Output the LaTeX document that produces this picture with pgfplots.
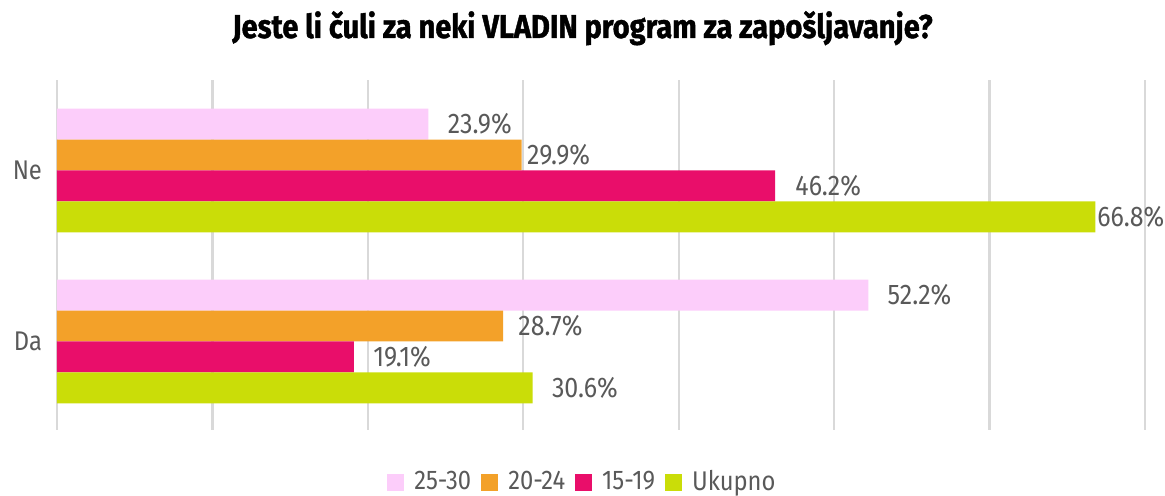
\documentclass[border=0pt]{standalone}
\usepackage{pgfplots}
\usepackage{pgfplotstable}
\pgfplotsset{compat=1.18}
\usepackage{fontspec}
\setmainfont{Fira Sans}[FakeStretch=0.88]
\definecolor{cpink}{RGB}{252,205,250}
\definecolor{corange}{RGB}{243,161,41}
\definecolor{cmag}{RGB}{233,14,106}
\definecolor{clime}{RGB}{202,221,8}
\definecolor{cgrid}{RGB}{217,217,217}
\definecolor{ctext}{RGB}{89,89,89}
% c: 1 = Ne, 0 = Da ; dx = label gap in pt
\pgfplotstableread{
c v dx
1 23.9 9.5
0 52.2 9.5
}\tpink
\pgfplotstableread{
c v dx
1 29.9 2.5
0 28.7 7.5
}\torange
\pgfplotstableread{
c v dx
1 46.2 10
0 19.1 9.5
}\tmag
\pgfplotstableread{
c v dx
1 66.8 0.8
0 30.6 9.5
}\tlime
\begin{document}
\begin{tikzpicture}
\begin{axis}[
  scale only axis, width=544pt, height=175pt,
  at={(28.5pt,33pt)}, anchor=south west,
  /pgf/number format/assume math mode=true,
  xmin=0, xmax=70, ymin=-0.5175, ymax=1.529,
  xtick={0,10,...,70}, xticklabels={},
  xmajorgrids, grid style={cgrid, line width=1.2pt},
  axis line style={draw=none}, major tick length=0pt,
  ytick={0,1}, yticklabels={Da,Ne},
  yticklabel style={font=\fontsize{13.5}{16}\selectfont, text=ctext, xshift=-4pt},
  xbar, bar width=0.181,
  visualization depends on={\thisrow{dx} \as \dx},
  nodes near coords={\pgfmathprintnumber[fixed,precision=1,fixed zerofill,assume math mode=true]{\pgfplotspointmeta}\%},
  nodes near coords style={font=\fontsize{14.2}{17}\selectfont, text=ctext, anchor=west, inner sep=0pt, xshift=\dx pt},
  legend columns=-1,
  legend style={at={(0.482,-0.1486)}, anchor=center, draw=none, fill=none,
    font=\fontsize{13.5}{16}\selectfont, text=ctext,
    nodes={inner sep=0pt},
    /tikz/every odd column/.append style={column sep=5pt},
    /tikz/every even column/.append style={column sep=5pt}},
  legend image code/.code={\fill[#1] (0pt,-4.25pt) rectangle (8.5pt,4.25pt);},
]
\addplot[fill=cpink, draw=none, bar shift=0.2715] table[x=v, y=c] {\tpink};
\addplot[fill=corange, draw=none, bar shift=0.0905] table[x=v, y=c] {\torange};
\addplot[fill=cmag, draw=none, bar shift=-0.0905] table[x=v, y=c] {\tmag};
\addplot[fill=clime, draw=none, bar shift=-0.2715] table[x=v, y=c] {\tlime};
\legend{25-30, 20-24, 15-19, Ukupno}
\end{axis}
\node[anchor=base, font=\fontsize{16.5}{19}\bfseries\addfontfeatures{FakeBold=1.2}] at (291.25pt,229pt) {Jeste li čuli za neki VLADIN program za zapošljavanje?};
\pgfresetboundingbox
\path (0,0) rectangle (582.5pt,248pt);
\end{tikzpicture}
\end{document}
